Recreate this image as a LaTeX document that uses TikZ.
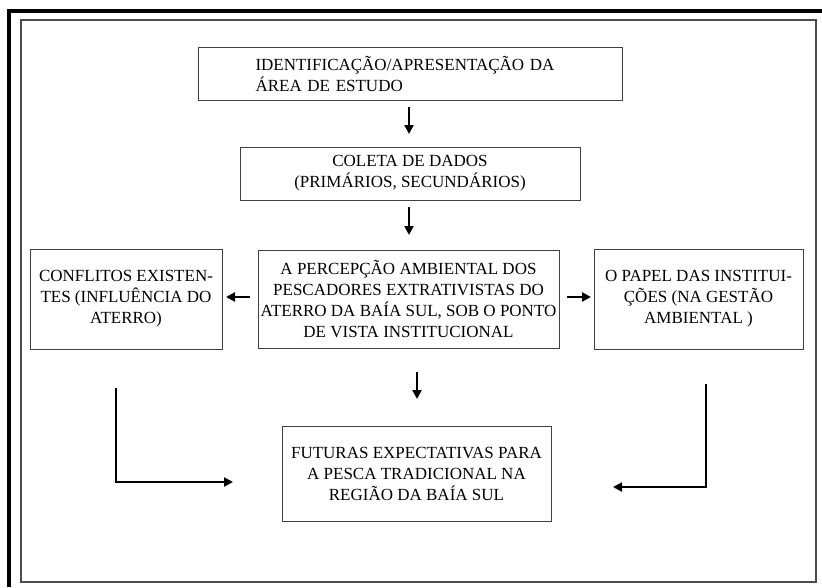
\documentclass[tikz,border=0pt]{standalone}
\usepackage{fontspec}
\setmainfont{Liberation Serif}
\usetikzlibrary{arrows.meta}
\begin{document}
\begin{tikzpicture}[x=1pt,y=-1pt,
  box/.style={draw=black!75, line width=0.9pt, inner sep=0pt, font=\fontsize{17}{21}\selectfont, align=center},
  conn/.style={line width=2.8pt, -{Triangle[length=9pt,width=9pt]}}]
\useasboundingbox (0,0) rectangle (822,587);
\fill[white] (0,0) rectangle (822,587);
% frames
\draw[line width=4.5pt] (9,587) -- (9,11) -- (822,11);
\draw[black!70, line width=1.1pt] (21,20) rectangle (816,582);
% boxes
\node[box, minimum width=424pt, minimum height=53pt, text width=410pt, align=left] (b1) at (410.5,73.5) {\hspace*{50pt}IDENTIFICAÇÃO/APRESENTAÇÃO DA\\\hspace*{50pt}ÁREA DE ESTUDO};
\node[box, minimum width=340pt, minimum height=53pt] (b2) at (410,173.5) {COLETA DE DADOS\\(PRIMÁRIOS, SECUNDÁRIOS)};
\node[box, minimum width=301pt, minimum height=98pt] (b3) at (408.5,299) {A PERCEPÇÃO AMBIENTAL DOS\\PESCADORES EXTRATIVISTAS DO\\ATERRO DA BAÍA SUL, SOB O PONTO\\DE VISTA INSTITUCIONAL};
\node[box, minimum width=192pt, minimum height=100pt] (bl) at (126,299) {CONFLITOS EXISTEN-\\TES (INFLUÊNCIA DO\\ATERRO)};
\node[box, minimum width=209pt, minimum height=100pt] (br) at (698.5,299) {O PAPEL DAS INSTITUI-\\ÇÕES (NA GESTÃO\\AMBIENTAL )};
\node[box, minimum width=269pt, minimum height=95pt] (b4) at (416.5,473.5) {FUTURAS EXPECTATIVAS PARA\\A PESCA TRADICIONAL NA\\REGIÃO DA BAÍA SUL};
% free ends
\coordinate (a1s) at (409,107); \coordinate (a1e) at (409,134);
\coordinate (a2s) at (409,207); \coordinate (a2e) at (409,235);
\coordinate (a3s) at (250,297); \coordinate (a3e) at (226,297);
\coordinate (a4s) at (567,297); \coordinate (a4e) at (591,297);
\coordinate (a5s) at (417,372); \coordinate (a5e) at (417,399);
\coordinate (lls) at (116,388); \coordinate (lle) at (233,482);
\coordinate (rls) at (706,384); \coordinate (rle) at (613,487);
\draw[conn] (a1s) -- (a1e);
\draw[conn] (a2s) -- (a2e);
\draw[conn] (a3s) -- (a3e);
\draw[conn] (a4s) -- (a4e);
\draw[conn] (a5s) -- (a5e);
\draw[conn] (lls) |- (lle);
\draw[conn] (rls) |- (rle);
\end{tikzpicture}
\end{document}
